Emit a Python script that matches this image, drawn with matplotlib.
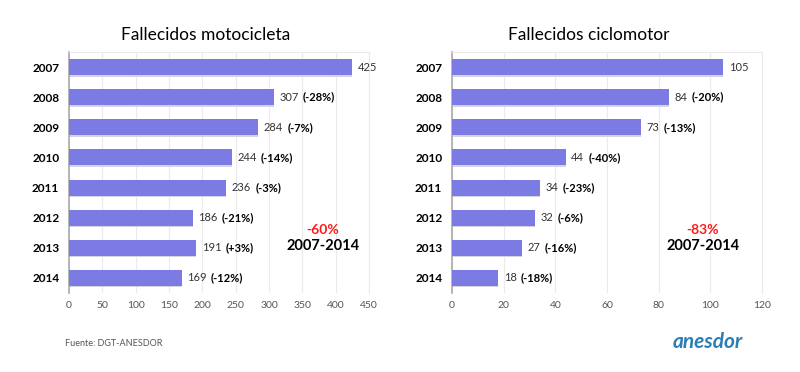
import matplotlib
matplotlib.use("Agg")
import matplotlib.pyplot as plt

BAR = "#7B7BE3"
SHADOW = "#D4D4DE"
GRID = "#EBEBEB"
TXT = "#333333"
TICK = "#555555"

years = ["2007", "2008", "2009", "2010", "2011", "2012", "2013", "2014"]
moto = [425, 307, 284, 244, 236, 186, 191, 169]
moto_pct = ["", "(-28%)", "(-7%)", "(-14%)", "(-3%)", "(-21%)", "(+3%)", "(-12%)"]
ciclo = [105, 84, 73, 44, 34, 32, 27, 18]
ciclo_pct = ["", "(-20%)", "(-13%)", "(-40%)", "(-23%)", "(-6%)", "(-16%)", "(-18%)"]

plt.rcParams.update({
    "font.family": ["Lato", "DejaVu Sans"],
})

fig = plt.figure(figsize=(8, 3.72), dpi=100)
ax1 = fig.add_axes([69 / 800, 1 - 293 / 372, 300 / 800, 241 / 372])
ax2 = fig.add_axes([452 / 800, 1 - 293 / 372, 310 / 800, 241 / 372])


def panel(ax, vals, pcts, xmax, step, title, title_x, total, total_x):
    pos = list(range(len(years)))
    # soft drop shadow under the bars
    ax.barh([p + 0.05 for p in pos], vals, height=0.53, color=SHADOW, zorder=2)
    ax.barh(pos, vals, height=0.53, color=BAR, zorder=3)
    ax.set_ylim(len(years) - 0.5, -0.5)
    ax.set_xlim(0, xmax)
    ax.set_xticks(range(0, xmax + 1, step))
    ax.set_yticks(pos)
    ax.set_yticklabels(years, fontweight="bold", fontsize=8.5, color="black")
    ax.tick_params(axis="x", length=0, labelsize=7.5, colors=TICK, pad=6)
    ax.tick_params(axis="y", length=0, pad=7)
    ax.grid(axis="x", color=GRID, lw=0.8, zorder=0)
    for s in ["top", "right"]:
        ax.spines[s].set_color(GRID)
    ax.spines["bottom"].set_visible(False)
    ax.spines["left"].set_color("#AAAAAA")
    ax.spines["left"].set_linewidth(1.2)
    for p, v, pc in zip(pos, vals, pcts):
        t = ax.annotate(str(v), xy=(v, p), xytext=(4, 0), textcoords="offset points",
                        va="center", ha="left", fontsize=8, color=TXT)
        if pc:
            ax.annotate(pc, xy=(1, 0.5), xycoords=t, xytext=(3, 0),
                        textcoords="offset points", va="center", ha="left",
                        fontsize=8, fontweight="bold", color="black")
    ax.text(total_x, 5.4, total, color="#FF1A1A", fontsize=10, fontweight="bold",
            ha="center", va="center")
    ax.text(total_x, 5.95, "2007-2014", color="black", fontsize=10.5,
            fontweight="bold", ha="center", va="center")
    ax.set_title(title, x=title_x, fontsize=12.5, color="black", pad=9)


panel(ax1, moto, moto_pct, 450, 50, "Fallecidos motocicleta", 0.457, "-60%", 381)
panel(ax2, ciclo, ciclo_pct, 120, 20, "Fallecidos ciclomotor", 0.44, "-83%", 97)

fig.text(65 / 800, 1 - 344 / 372, "Fuente: DGT-ANESDOR", fontsize=6.5,
         color="#555555", va="center", ha="left")
fig.text(708 / 800, 1 - 342 / 372, "anesdor", fontsize=15, fontweight="bold",
         style="italic", color="#2A7DB5", va="center", ha="center")

fig.savefig("out.png", dpi=100)
